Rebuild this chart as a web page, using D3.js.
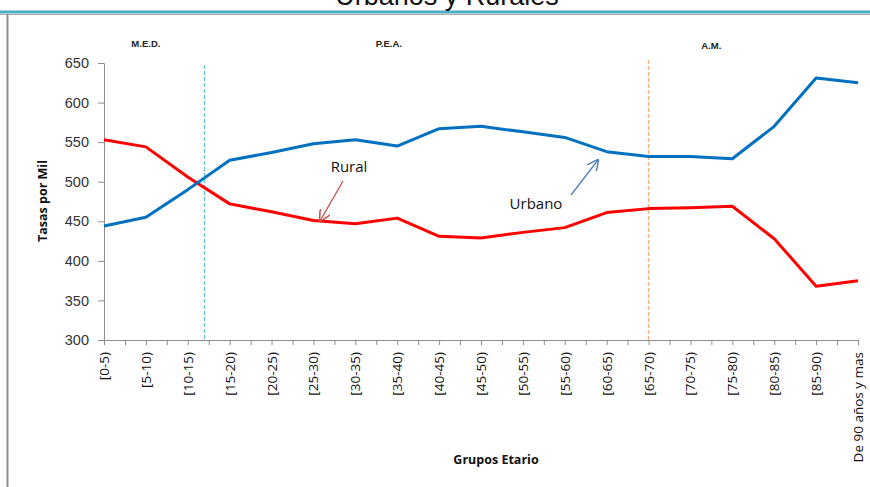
<!DOCTYPE html>
<html>
<head>
<meta charset="utf-8">
<script src="https://cdn.jsdelivr.net/npm/d3@7"></script>
<style>
  body { margin: 0; background: #fff; }
  svg { display: block; font-family: "Open Sans", "Liberation Sans", sans-serif; }
</style>
</head>
<body>
<svg id="chart" width="870" height="487"></svg>
<script>
// data
const grupos = ['[0-5)', '[5-10)', '[10-15)', '[15-20)', '[20-25)', '[25-30)', '[30-35)', '[35-40)', '[40-45)',
  '[45-50)', '[50-55)', '[55-60)', '[60-65)', '[65-70)', '[70-75)', '[75-80)', '[80-85)', '[85-90)', 'De 90 años y mas'];
const urbano = [444, 455, 490, 527, 537, 548, 553, 545, 567, 570, 563, 556, 538, 532, 532, 529, 570, 631, 625];
const rural = [553, 544, 506, 472, 462, 451, 447, 454, 431, 429, 436, 442, 461, 466, 467, 469, 428, 368, 375];
const yTicks = [300, 350, 400, 450, 500, 550, 600, 650];
const secciones = [
  { label: 'M.E.D.', pos: 1 },
  { label: 'P.E.A.', pos: 6.8 },
  { label: 'A.M.', pos: 14.5 }
];
const cortes = [
  { pos: 2.4, color: '#6cc4dc' },
  { pos: 13, color: '#f9b47c' }
];

const svg = d3.select('#chart');
const width = 870, height = 487;

const x = d3.scaleLinear().domain([0, grupos.length - 1]).range([104, 858]);
const y = d3.scaleLinear().domain([300, 650]).range([340, 63]);

// frame: top teal rule and left grey rule
svg.append('line').attr('x1', 0).attr('x2', width).attr('y1', 12).attr('y2', 12)
  .attr('stroke', '#4bacc6').attr('stroke-width', 3);
svg.append('line').attr('x1', 0).attr('x2', width).attr('y1', 14.5).attr('y2', 14.5)
  .attr('stroke', '#aaa').attr('stroke-width', 1);
svg.append('line').attr('x1', 7.5).attr('x2', 7.5).attr('y1', 14).attr('y2', height)
  .attr('stroke', '#8c8c8c').attr('stroke-width', 2);

// title (cut by the top edge, as in the slide)
svg.append('text')
  .attr('x', 447).attr('y', 5)
  .attr('text-anchor', 'middle')
  .attr('font-family', 'Liberation Sans, Arial, sans-serif')
  .attr('font-size', 27)
  .attr('fill', '#111')
  .text('Urbanos y Rurales');

// y axis
const yAxis = svg.append('g')
  .attr('transform', 'translate(104,0)')
  .call(d3.axisLeft(y).tickValues(yTicks).tickSize(6).tickPadding(9));
yAxis.selectAll('text').attr('font-size', 14.5).attr('fill', '#333')
  .attr('font-family', 'Liberation Sans, Arial, sans-serif');

// x axis: ticks at categories and midpoints
const xAxis = svg.append('g')
  .attr('transform', 'translate(0,340)')
  .call(d3.axisBottom(x).tickValues(d3.range(0, grupos.length - 0.5, 0.5)).tickSize(5).tickFormat(''));
xAxis.selectAll('line, path').attr('stroke', '#8c8c8c');
yAxis.selectAll('line, path').attr('stroke', '#8c8c8c');
yAxis.select('.domain').attr('d', 'M-6,63.5H0.5V340.5');

svg.append('g')
  .selectAll('text')
  .data(grupos)
  .join('text')
  .attr('transform', (d, i) => `translate(${x(i) + 5},352) rotate(-90)`)
  .attr('text-anchor', 'end')
  .attr('font-size', 13.5)
  .attr('fill', '#111')
  .text(d => d);

// axis titles
svg.append('text')
  .attr('transform', 'translate(47,201) rotate(-90)')
  .attr('text-anchor', 'middle')
  .attr('font-size', 12.5).attr('font-weight', 'bold').attr('fill', '#111')
  .text('Tasas por Mil');

svg.append('text')
  .attr('x', 496).attr('y', 464)
  .attr('text-anchor', 'middle')
  .attr('font-size', 12.5).attr('font-weight', 'bold').attr('fill', '#111')
  .text('Grupos Etario');

// section labels
svg.append('g')
  .selectAll('text')
  .data(secciones)
  .join('text')
  .attr('x', d => x(d.pos))
  .attr('y', (d, i) => i === 2 ? 49 : 47)
  .attr('text-anchor', 'middle')
  .attr('font-size', 9.5).attr('font-weight', 'bold').attr('fill', '#222')
  .attr('font-family', 'Liberation Sans Narrow, Liberation Sans, sans-serif')
  .text(d => d.label);

// dashed separators
svg.append('g')
  .selectAll('line')
  .data(cortes)
  .join('line')
  .attr('x1', d => x(d.pos)).attr('x2', d => x(d.pos))
  .attr('y1', (d, i) => i === 0 ? 65 : 60).attr('y2', 340)
  .attr('stroke', d => d.color)
  .attr('stroke-width', 1.5)
  .attr('stroke-dasharray', '4,2');

// series lines
const line = d3.line().x((d, i) => x(i)).y(d => y(d));
svg.append('path').datum(rural)
  .attr('fill', 'none').attr('stroke', '#ff0000').attr('stroke-width', 3)
  .attr('stroke-linejoin', 'round').attr('d', line);
svg.append('path').datum(urbano)
  .attr('fill', 'none').attr('stroke', '#0070c0').attr('stroke-width', 3)
  .attr('stroke-linejoin', 'round').attr('d', line);

// annotations with arrows
const defs = svg.append('defs');
function marker(id, color) {
  defs.append('marker')
    .attr('id', id)
    .attr('viewBox', '0 0 10 10')
    .attr('refX', 9).attr('refY', 5)
    .attr('markerWidth', 9).attr('markerHeight', 9)
    .attr('orient', 'auto')
    .append('path')
    .attr('d', 'M0,0L10,5L0,10')
    .attr('fill', 'none').attr('stroke', color).attr('stroke-width', 1.3);
}
marker('flechaRural', '#c0504d');
marker('flechaUrbano', '#4f81bd');

svg.append('text')
  .attr('x', 349).attr('y', 172)
  .attr('text-anchor', 'middle')
  .attr('font-size', 15).attr('fill', '#111')
  .text('Rural');
svg.append('line')
  .attr('x1', 343).attr('y1', 181).attr('x2', 320).attr('y2', 221)
  .attr('stroke', '#c0504d').attr('stroke-width', 1.3)
  .attr('marker-end', 'url(#flechaRural)');

svg.append('text')
  .attr('x', 536).attr('y', 209)
  .attr('text-anchor', 'middle')
  .attr('font-size', 15).attr('fill', '#111')
  .text('Urbano');
svg.append('line')
  .attr('x1', 571).attr('y1', 195).attr('x2', 598).attr('y2', 160)
  .attr('stroke', '#4f81bd').attr('stroke-width', 1.3)
  .attr('marker-end', 'url(#flechaUrbano)');
</script>
</body>
</html>
